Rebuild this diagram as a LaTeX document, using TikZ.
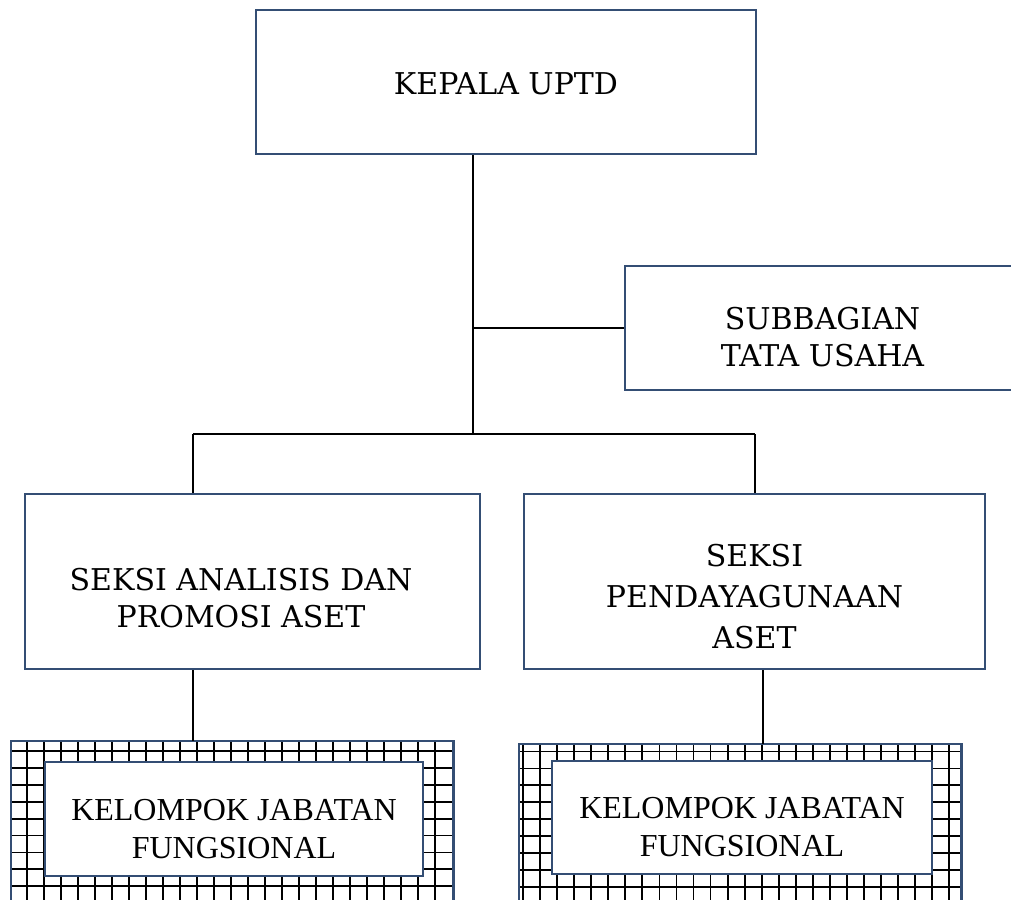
\documentclass[tikz,border=0pt]{standalone}
\usepackage{fontspec}
\newfontfamily\unitfont{DejaVu Serif}
\newfontfamily\kelfont{Liberation Serif}
\definecolor{boxblue}{RGB}{52,78,116}

\begin{document}
\begin{tikzpicture}[x=0.5pt, y=-0.5pt,
	unit/.style={draw=boxblue, line width=1.1pt, inner sep=0pt},
	unittext/.style={align=center, inner sep=0pt, font=\unitfont\fontsize{15}{18.5}\selectfont},
	keltext/.style={align=center, inner sep=0pt, font=\kelfont\fontsize{16}{18.7}\selectfont},
	gridline/.style={black, line width=0.9pt},
	link/.style={black, line width=0.8pt}]
	
	\clip (0,0) rectangle (1011,899);
	
	% head
	\node[unit, minimum width=250pt, minimum height=72pt] (kepala) at (506,82) {};
	\node[unittext] at (506,84) {KEPALA UPTD};
	
	% subbagian, runs off the right edge
	\node[unit, minimum width=197.5pt, minimum height=62pt] (subbag) at (822.5,328) {};
	\node[unittext] at (822.5,337) {SUBBAGIAN\\TATA USAHA};
	
	% seksi boxes
	\node[unit, minimum width=227.5pt, minimum height=87.5pt] (analisis) at (252.5,581.5) {};
	\node[unittext] at (241,598) {SEKSI ANALISIS DAN\\PROMOSI ASET};
	
	\node[unit, minimum width=230.5pt, minimum height=87.5pt] (daya) at (754.5,581.5) {};
	\node[unittext, font=\unitfont\fontsize{15}{20.5}\selectfont] at (754.5,597) {SEKSI\\PENDAYAGUNAAN\\ASET};
	
	% grid frames
	\node[minimum width=221pt, minimum height=89.5pt, inner sep=0pt] (gridA) at (232,830.5) {};
	\begin{scope}
		\clip (gridA.north west) rectangle (gridA.south east);
		\foreach \k in {0,...,24} \draw[gridline] (26.7+17.01*\k,741) -- ++(0,180);
		\foreach \k in {0,...,9} \draw[gridline] (11,751+16.9*\k) -- ++(442,0);
	\end{scope}
	\draw[unit] (gridA.south west) -- (gridA.north west) -- (gridA.north east) -- (gridA.south east);
	
	\node[minimum width=221pt, minimum height=88pt, inner sep=0pt] (gridB) at (740,832) {};
	\begin{scope}
		\clip (gridB.north west) rectangle (gridB.south east);
		\foreach \k in {0,...,25} \draw[gridline] (523+17.05*\k,744) -- ++(0,180);
		\foreach \k in {0,...,9} \draw[gridline] (519,751.5+16.9*\k) -- ++(442,0);
	\end{scope}
	\draw[unit] (gridB.south west) -- (gridB.north west) -- (gridB.north east) -- (gridB.south east);
	
	% kelompok boxes
	\node[unit, fill=white, minimum width=189pt, minimum height=57pt] (kelA) at (234,819) {};
	\node[keltext] at (234,829) {KELOMPOK JABATAN\\FUNGSIONAL};
	
	\node[unit, fill=white, minimum width=190pt, minimum height=56.5pt] (kelB) at (742,817.5) {};
	\node[keltext] at (742,827) {KELOMPOK JABATAN\\FUNGSIONAL};
	
	% connectors
	\coordinate (stem) at (473,434);
	\coordinate (busL) at (193,434);
	\coordinate (busR) at (755,434);
	\coordinate (dropR) at (763,669);
	\draw[link] (kepala.south -| stem) -- (stem);
	\draw[link] (subbag.west -| stem) -- (subbag.west);
	\draw[link] (busL) -- (busR);
	\draw[link] (busL) -- (busL |- analisis.north);
	\draw[link] (busR) -- (busR |- daya.north);
	\draw[link] (busL |- analisis.south) -- (busL |- gridA.north);
	\draw[link] (dropR |- daya.south) -- (dropR |- gridB.north);
	
\end{tikzpicture}
\end{document}
